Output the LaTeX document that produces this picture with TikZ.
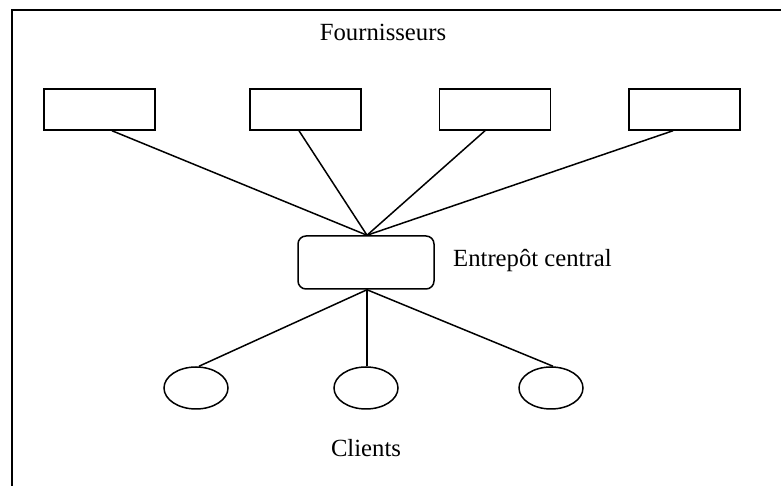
\documentclass[tikz,border=0pt]{standalone}
\usepackage{fontspec}
\setmainfont{Liberation Serif}
\usetikzlibrary{shapes.geometric,calc}
\tikzset{
  sup/.style={draw, line width=1.5pt, minimum width=111pt, minimum height=41pt, inner sep=0pt},
  hub/.style={draw, line width=1.5pt, rounded corners=8pt, minimum width=136pt, minimum height=53pt, inner sep=0pt},
  cli/.style={draw, ellipse, line width=1.5pt, minimum width=64pt, minimum height=42pt, inner sep=0pt},
  conn/.style={line width=1.5pt},
  lbl/.style={font=\fontsize{24.7pt}{29pt}\selectfont, inner sep=0pt}
}
\begin{document}
\begin{tikzpicture}[x=1pt,y=1pt]
\useasboundingbox (0,0) rectangle (781,486);
\fill[white] (0,0) rectangle (781,486);
\coordinate (fl) at (12,0);
\coordinate (fc) at (12,476);
\coordinate (fr) at (781,476);
\draw[line width=2pt] (fl) -- (fc) -- (fr);

\node[sup] (b1) at (99.5,376.5) {};
\node[sup] (b2) at (305.5,376.5) {};
\node[sup] (b3) at (495,376.5) {};
\node[sup] (b4) at (684.5,376.5) {};
\node[hub] (h) at (366,223.5) {};
\node[cli] (c1) at (196,98) {};
\node[cli] (c2) at (366,98) {};
\node[cli] (c3) at (551,98) {};

\node[lbl, anchor=base] (tf) at (383,445) {Fournisseurs};
\node[lbl, anchor=base west] (te) at (453,219) {Entrepôt central};
\node[lbl, anchor=base] (tc) at (366,29) {Clients};

\coordinate (ht) at ($(h.north)+(1,0)$);
\coordinate (hb) at ($(h.south)+(1,0)$);
\draw[conn] ($(b1.south)+(12.5,0)$) -- (ht);
\draw[conn] ($(b2.south)+(-6.5,0)$) -- (ht);
\draw[conn] ($(b3.south)+(-10,0)$) -- (ht);
\draw[conn] ($(b4.south)+(-11.5,0)$) -- (ht);
\draw[conn] (hb) -- ($(c1.north)+(3,0)$);
\draw[conn] (hb) -- (c2.north -| hb);
\draw[conn] (hb) -- ($(c3.north)+(2,0)$);
\end{tikzpicture}
\end{document}
